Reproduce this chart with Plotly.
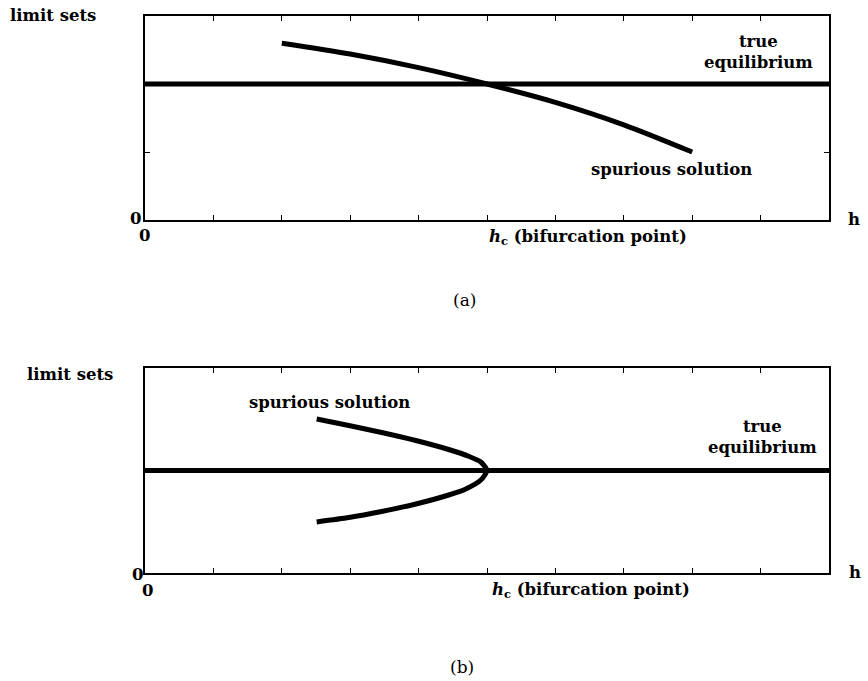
import plotly.graph_objects as go

W, H = 868, 681

# ---------------- data ----------------
h_ticks = [0, 1, 2, 3, 4, 5, 6, 7, 8, 9, 10]

# panel (a)
eq_a_x = [0, 10]
eq_a_y = [2, 2]
spur_a_x = [2, 3, 4, 5, 6, 7, 8]
spur_a_y = [2.6, 2.44, 2.24, 2.0, 1.73, 1.40, 1.0]

# panel (b)
eq_b_x = [0, 10]
eq_b_y = [1, 1]
spur_b_x = [2.51, 2.98, 3.46, 3.96, 4.44, 4.74, 4.91, 5.0,
            4.91, 4.69, 4.44, 3.96, 3.46, 2.98, 2.51]
spur_b_y = [1.502, 1.439, 1.371, 1.293, 1.205, 1.137, 1.083, 1.0,
            0.907, 0.820, 0.761, 0.673, 0.600, 0.541, 0.498]

FONT = "DejaVu Serif"
FS = 16.5


def px(x):
    return x / W


def py(y):
    return 1 - y / H


fig = go.Figure()
line_style = dict(color="black", width=5)
fig.add_trace(go.Scatter(x=eq_a_x, y=eq_a_y, mode="lines", line=line_style,
                         xaxis="x", yaxis="y", showlegend=False, hoverinfo="skip"))
fig.add_trace(go.Scatter(x=spur_a_x, y=spur_a_y, mode="lines",
                         line=dict(color="black", width=5, shape="spline", smoothing=0.8),
                         xaxis="x", yaxis="y", showlegend=False, hoverinfo="skip"))
fig.add_trace(go.Scatter(x=eq_b_x, y=eq_b_y, mode="lines", line=line_style,
                         xaxis="x2", yaxis="y2", showlegend=False, hoverinfo="skip"))
fig.add_trace(go.Scatter(x=spur_b_x, y=spur_b_y, mode="lines",
                         line=dict(color="black", width=5, shape="spline", smoothing=0.6),
                         xaxis="x2", yaxis="y2", showlegend=False, hoverinfo="skip"))

ax_common = dict(showline=True, mirror="ticks", linecolor="black", linewidth=1.5,
                 ticks="inside", ticklen=5, tickwidth=1, tickcolor="black",
                 showticklabels=False, showgrid=False, zeroline=False, fixedrange=True)

xdom = [px(145), px(829)]
fig.update_layout(
    width=W, height=H,
    margin=dict(l=0, r=0, t=0, b=0),
    paper_bgcolor="white", plot_bgcolor="white",
    font=dict(family=FONT, color="black", size=FS),
    xaxis=dict(ax_common, domain=xdom, range=[0, 10], tickvals=h_ticks, anchor="y"),
    yaxis=dict(ax_common, domain=[py(220), py(16)], range=[0, 3], tickvals=[1, 2], anchor="x"),
    xaxis2=dict(ax_common, domain=xdom, range=[0, 10], tickvals=h_ticks, anchor="y2"),
    yaxis2=dict(ax_common, domain=[py(573), py(368)], range=[0, 2], tickvals=[1], anchor="x2"),
)

B = lambda s: "<b>" + s + "</b>"
hc = "<i><b>h</b></i><sub><b>c</b></sub><b> (bifurcation point)</b>"

anns = [
    # panel (a)
    (8, 16, B("limit sets"), "left", FS),
    (758, 52, B("true<br>equilibrium"), "center", FS),
    (671, 170, B("spurious solution"), "center", FS),
    (487, 237, hc, "left", FS),
    (854, 219, B("h"), "center", FS),
    (135, 218, B("0"), "center", FS),
    (144, 235, B("0"), "center", FS),
    (464, 300, "(a)", "center", 17),
    # panel (b)
    (25, 374, B("limit sets"), "left", FS),
    (329, 402, B("spurious solution"), "center", FS),
    (762, 437, B("true<br>equilibrium"), "center", FS),
    (490, 590, hc, "left", FS),
    (855, 572, B("h"), "center", FS),
    (137, 574, B("0"), "center", FS),
    (147, 590, B("0"), "center", FS),
    (462, 667, "(b)", "center", 17),
]
for x, y, t, xa, fs in anns:
    fig.add_annotation(x=px(x), y=py(y), xref="paper", yref="paper", text=t,
                       showarrow=False, xanchor=xa, yanchor="middle",
                       align="center", font=dict(family=FONT, size=fs, color="black"))

fig.write_html("out.html", config={"displayModeBar": False},
               post_script="document.body.style.margin='0';document.body.style.overflow='hidden';")
